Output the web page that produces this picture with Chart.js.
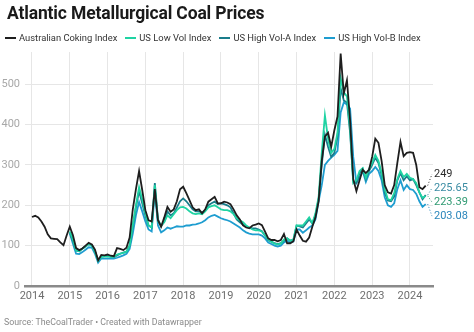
<!DOCTYPE html>
<html>
<head>
<meta charset="utf-8">
<script src="https://cdn.jsdelivr.net/npm/chart.js@4"></script>
<style>
  body { margin: 0; background: #fff; font-family: Roboto, "Noto Sans", sans-serif; }
  #wrap { position: relative; width: 474px; height: 332px; overflow: hidden; }
  #chart { position: absolute; left: 0; top: 0; }
  h1 { position: absolute; left: 7px; top: 3px; margin: 0; font-size: 17.5px; font-weight: 700; color: #1a1a1a; letter-spacing: -0.15px; }
  #legend { position: absolute; left: 5px; top: 32px; font-size: 9.4px; color: #333; white-space: nowrap; }
  #legend span { margin-right: 8px; }
  #legend i { display: inline-block; width: 11px; height: 2px; vertical-align: middle; margin-right: 3px; position: relative; top: -1px; }
  #source { position: absolute; left: 4px; top: 317px; font-size: 8.8px; color: #8a8a8a; }
</style>
</head>
<body>
<div id="wrap">
  <canvas id="chart" width="474" height="332"></canvas>
  <h1>Atlantic Metallurgical Coal Prices</h1>
  <div id="legend"></div>
  <div id="source">Source: TheCoalTrader • Created with Datawrapper</div>
</div>
<script>
// monthly prices, USD/t
const ausStart = 2014;   // Australian series starts Jan 2014
const usStart = 2015;    // US indexes start Jan 2015

const ausCoking = [
  171, 174, 170, 160, 147, 128, 118, 117, 116, 108, 101, 125,
  147, 126, 94, 89, 93, 100, 107, 103, 90, 64, 77, 76,
  78, 75, 74, 94, 92, 89, 95, 120, 190, 240, 285, 238,
  188, 163, 160, 240, 163, 147, 170, 196, 184, 190, 210, 240,
  246, 230, 213, 195, 188, 190, 180, 190, 209, 215, 221, 205,
  205, 209, 207, 203, 190, 175, 165, 150, 145, 143, 150, 152,
  155, 151, 135, 118, 114, 114, 111, 114, 129, 106, 106, 111,
  140, 125, 112, 110, 120, 147, 170, 210, 310, 370, 380, 345,
  386, 420, 576, 477, 510, 410, 265, 235, 262, 288, 280, 288,
  320, 365, 355, 310, 250, 232, 229, 250, 305, 357, 322, 330,
  332, 330, 300, 245, 240, 249
];

const usLowVol = [
  135, 115, 88, 86, 92, 98, 104, 100, 85, 62, 72, 73,
  73, 72, 72, 78, 80, 82, 85, 100, 150, 200, 245, 215,
  180, 150, 145, 250, 160, 150, 158, 175, 168, 178, 188, 195,
  196, 192, 185, 180, 178, 180, 178, 185, 195, 198, 200, 195,
  190, 188, 188, 185, 178, 168, 163, 158, 150, 145, 140, 138,
  138, 135, 125, 115, 110, 105, 103, 105, 115, 118, 112, 115,
  150, 150, 150, 160, 170, 155, 180, 220, 330, 423, 365, 330,
  340, 380, 515, 480, 470, 390, 255, 262, 285, 292, 268, 290,
  305, 325, 310, 280, 240, 215, 213, 230, 265, 285, 270, 278,
  268, 265, 255, 232, 218, 223.39
];

const usHighVolA = [
  133, 112, 88, 86, 93, 98, 104, 101, 86, 63, 73, 74,
  75, 73, 72, 76, 80, 83, 85, 100, 148, 195, 235, 205,
  175, 150, 145, 255, 165, 148, 160, 185, 175, 180, 195, 210,
  217, 210, 200, 190, 185, 185, 182, 188, 200, 205, 209, 203,
  205, 203, 200, 195, 180, 165, 158, 152, 148, 145, 143, 143,
  140, 136, 125, 114, 110, 106, 104, 106, 112, 118, 112, 115,
  150, 148, 145, 155, 165, 155, 175, 215, 300, 375, 345, 320,
  330, 370, 490, 460, 455, 380, 258, 255, 280, 290, 265, 285,
  300, 318, 305, 275, 232, 212, 210, 222, 262, 280, 262, 272,
  262, 265, 250, 232, 215, 225.65
];

const usHighVolB = [
  130, 105, 80, 79, 84, 90, 96, 95, 80, 58, 68, 68,
  68, 68, 68, 70, 73, 76, 80, 92, 130, 175, 208, 185,
  160, 140, 135, 235, 150, 133, 138, 145, 142, 145, 148, 147,
  147, 150, 150, 152, 153, 155, 158, 163, 170, 174, 176, 172,
  168, 165, 163, 160, 155, 150, 145, 138, 133, 130, 128, 128,
  128, 125, 118, 108, 104, 100, 98, 100, 108, 112, 108, 110,
  140, 140, 132, 138, 145, 150, 165, 210, 250, 300, 310, 318,
  325, 335, 430, 455, 450, 440, 320, 255, 270, 285, 258, 278,
  285, 295, 285, 262, 220, 200, 196, 205, 240, 262, 238, 250,
  240, 238, 228, 210, 196, 203.08
];

const yearTicks = [2014, 2015, 2016, 2017, 2018, 2019, 2020, 2021, 2022, 2023, 2024];
const priceTicks = [0, 100, 200, 300, 400, 500];

const series = [
  { name: "Australian Coking Index", values: ausCoking, start: ausStart, color: "#1e1e1e", text: "#2b2b2b", label: "249" },
  { name: "US Low Vol Index", values: usLowVol, start: usStart, color: "#1fd3a3", text: "#2f9a72", label: "223.39" },
  { name: "US High Vol-A Index", values: usHighVolA, start: usStart, color: "#1a7d8b", text: "#3a8ca3", label: "225.65" },
  { name: "US High Vol-B Index", values: usHighVolB, start: usStart, color: "#1e9dd0", text: "#2a86bb", label: "203.08" }
];

const toPoints = (values, start) => values.map((v, i) => ({ x: start + i / 12, y: v }));

// html legend
const legend = document.getElementById("legend");
series.forEach(s => {
  const item = document.createElement("span");
  item.innerHTML = `<i style="background:${s.color}"></i>${s.name}`;
  legend.appendChild(item);
});

// end-of-line value labels, spread apart so they don't overlap
const endLabels = {
  id: "endLabels",
  afterDatasetsDraw(chart) {
    const ctx = chart.ctx;
    const gap = 14;
    const items = chart.data.datasets.map((ds, i) => {
      const pts = chart.getDatasetMeta(i).data;
      const last = pts[pts.length - 1];
      return { x: last.x, y: last.y, ty: last.y, text: series[i].label, color: series[i].text };
    });
    items.sort((a, b) => a.y - b.y);
    for (let pass = 0; pass < 50; pass++) {
      let moved = false;
      for (let k = 1; k < items.length; k++) {
        const d = items[k].ty - items[k - 1].ty;
        if (d < gap) {
          const push = (gap - d) / 2;
          items[k].ty += push;
          items[k - 1].ty -= push;
          moved = true;
        }
      }
      if (!moved) break;
    }
    ctx.save();
    ctx.font = "11px Roboto, sans-serif";
    ctx.textBaseline = "middle";
    items.forEach(it => {
      const lx = 434;
      ctx.strokeStyle = it.color;
      ctx.lineWidth = 1;
      ctx.setLineDash([1, 2]);
      ctx.beginPath();
      ctx.moveTo(it.x + 2, it.y);
      ctx.lineTo(lx - 2, it.ty);
      ctx.stroke();
      ctx.fillStyle = it.color;
      ctx.fillText(it.text, lx, it.ty);
    });
    ctx.restore();
  }
};

new Chart(document.getElementById("chart"), {
  type: "line",
  data: {
    datasets: series.map(s => ({
      label: s.name,
      data: toPoints(s.values, s.start),
      borderColor: s.color,
      borderWidth: 1.8,
      pointRadius: 0,
      tension: 0,
      fill: false
    }))
  },
  options: {
    responsive: false,
    animation: false,
    layout: { padding: { top: 52, right: 41, bottom: 30, left: 0 } },
    plugins: { legend: { display: false }, tooltip: { enabled: false } },
    scales: {
      x: {
        type: "linear",
        min: 2013.815,
        max: 2024.61,
        afterBuildTicks: scale => { scale.ticks = yearTicks.map(v => ({ value: v })); },
        afterFit: scale => { scale.height = 16; },
        grid: { color: "#e6e6e6", drawTicks: false },
        border: { color: "#8a8a8a", width: 2.5 },
        ticks: { color: "#6e6e6e", font: { family: "Roboto", size: 11 }, padding: 4, maxRotation: 0, callback: v => String(v) }
      },
      y: {
        min: 0,
        max: 580,
        afterBuildTicks: scale => { scale.ticks = priceTicks.map(v => ({ value: v })); },
        afterFit: scale => { scale.width = 25; },
        grid: { color: ctx => ctx.tick && ctx.tick.value === 0 ? "rgba(0,0,0,0)" : "#e6e6e6", drawTicks: false },
        border: { display: false },
        ticks: { color: "#a8a8a8", font: { family: "Roboto", size: 11 }, padding: 5 }
      }
    }
  },
  plugins: [endLabels]
});
</script>
</body>
</html>
